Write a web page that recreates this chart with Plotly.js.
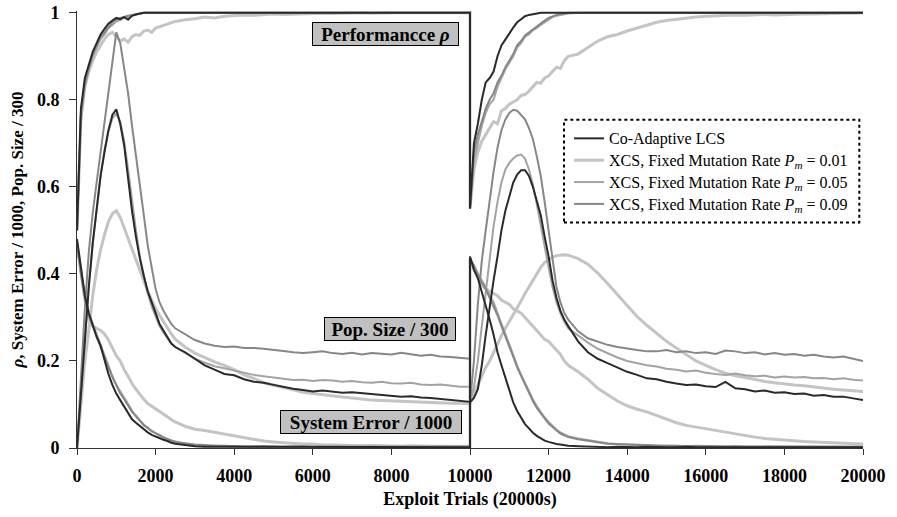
<!DOCTYPE html>
<html>
<head>
<meta charset="utf-8">
<script src="https://cdn.plot.ly/plotly-3.0.1.min.js"></script>
<style>
html,body{margin:0;padding:0;background:#fff;}
#chart{width:897px;height:517px;}
#chart .legendtext{font-size:16px !important;}
#chart g.legend g.scrollbox{clip-path:none !important;}
</style>
</head>
<body>
<div id="chart"></div>
<script>
// Exploit trials (shared x values); 10000 appears twice: end of phase 1, start of phase 2
const trials = [0,100,200,300,400,500,600,700,800,900,1000,1100,1200,1300,1400,1500,1600,1700,1800,1900,2000,2100,2200,2300,2400,2500,
2750,3000,3250,3500,3750,4000,4250,4500,4750,5000,5250,5500,5750,6000,6250,6500,6750,7000,7250,7500,7750,8000,8250,8500,8750,9000,9250,9500,9750,
10000,10000,10100,10200,10300,10400,10500,10600,10700,10800,10900,11000,11100,11200,11300,11400,11500,11600,11700,11800,11900,12000,12100,12200,12300,12400,12500,
12750,13000,13250,13500,13750,14000,14250,14500,14750,15000,15250,15500,15750,16000,16250,16500,16750,17000,17250,17500,17750,18000,18250,18500,18750,19000,19250,19500,19750,20000];

const seriesNames = ["Co-Adaptive LCS",
  "XCS, Fixed Mutation Rate <i>P</i><sub><i>m</i></sub> = 0.01",
  "XCS, Fixed Mutation Rate <i>P</i><sub><i>m</i></sub> = 0.05",
  "XCS, Fixed Mutation Rate <i>P</i><sub><i>m</i></sub> = 0.09"];

// ---------- Performance rho ----------
const perfCo = [0.50,0.78,0.85,0.88,0.91,0.93,0.95,0.963,0.975,0.982,0.988,0.985,0.99,0.984,0.993,0.996,0.998,1,1,1,1,1,1,1,1,1,
1,1,1,1,1,1,1,1,1,1,1,1,1,1,1,1,1,1,1,1,1,1,1,1,1,1,1,1,1,
1,0.55,0.70,0.745,0.80,0.84,0.85,0.865,0.90,0.925,0.94,0.952,0.966,0.978,0.985,0.992,0.995,0.997,0.998,1,1,1,1,1,1,1,1,
1,1,1,1,1,1,1,1,1,1,1,1,1,1,1,1,1,1,1,1,1,1,1,1,1,1,1,1,1,1];
const perfP01 = [0.50,0.76,0.83,0.865,0.89,0.91,0.925,0.94,0.95,0.955,0.945,0.935,0.94,0.932,0.945,0.95,0.948,0.958,0.96,0.955,0.965,0.968,0.972,0.975,0.978,0.98,
0.984,0.986,0.99,0.988,0.992,0.993,0.995,0.994,0.996,0.997,0.996,0.997,0.998,0.998,0.999,0.998,0.999,0.999,1,0.999,1,1,1,1,1,1,1,1,1,
1,0.55,0.64,0.68,0.705,0.72,0.735,0.75,0.745,0.775,0.78,0.79,0.795,0.80,0.81,0.812,0.82,0.83,0.84,0.838,0.85,0.855,0.865,0.875,0.872,0.89,0.90,
0.905,0.92,0.935,0.945,0.95,0.958,0.965,0.972,0.978,0.982,0.985,0.988,0.99,0.992,0.993,0.994,0.995,0.994,0.995,0.996,0.995,0.996,0.996,0.997,0.997,0.998,0.998,0.999,0.999,1];
const perfP05 = [0.50,0.75,0.83,0.87,0.90,0.92,0.94,0.95,0.965,0.972,0.98,0.983,0.99,0.988,0.994,0.996,0.998,1,1,1,1,1,1,1,1,1,
1,1,1,1,1,1,1,1,1,1,1,1,1,1,1,1,1,1,1,1,1,1,1,1,1,1,1,1,1,
1,0.55,0.66,0.70,0.74,0.77,0.79,0.80,0.83,0.85,0.87,0.885,0.90,0.92,0.93,0.945,0.95,0.96,0.965,0.972,0.978,0.985,0.99,0.993,0.995,0.997,0.998,
1,1,1,1,1,1,1,1,1,1,1,1,1,1,1,1,1,1,1,1,1,1,1,1,1,1,1,1,1,1];
const perfP09 = [0.50,0.77,0.84,0.875,0.905,0.925,0.945,0.955,0.968,0.978,0.985,0.988,0.99,0.993,0.995,0.997,0.998,1,1,1,1,1,1,1,1,1,
1,1,1,1,1,1,1,1,1,1,1,1,1,1,1,1,1,1,1,1,1,1,1,1,1,1,1,1,1,
1,0.55,0.68,0.72,0.75,0.78,0.80,0.815,0.84,0.855,0.875,0.89,0.905,0.925,0.935,0.948,0.955,0.962,0.97,0.976,0.982,0.988,0.992,0.995,0.997,0.998,1,
1,1,1,1,1,1,1,1,1,1,1,1,1,1,1,1,1,1,1,1,1,1,1,1,1,1,1,1,1,1];

// ---------- Population size / 300 ----------
const popCo = [0,0.13,0.26,0.37,0.47,0.555,0.625,0.68,0.73,0.765,0.778,0.745,0.695,0.62,0.545,0.485,0.435,0.395,0.36,0.335,0.31,0.285,0.27,0.255,0.24,0.232,
0.22,0.205,0.19,0.18,0.17,0.167,0.158,0.152,0.15,0.145,0.14,0.136,0.133,0.13,0.132,0.13,0.127,0.128,0.126,0.125,0.122,0.12,0.118,0.119,0.116,0.115,0.113,0.11,0.108,
0.106,0.105,0.115,0.135,0.19,0.26,0.325,0.385,0.44,0.5,0.545,0.58,0.61,0.628,0.638,0.638,0.625,0.6,0.57,0.535,0.485,0.44,0.385,0.345,0.315,0.295,0.28,
0.245,0.22,0.205,0.195,0.185,0.175,0.168,0.16,0.158,0.152,0.148,0.145,0.146,0.142,0.14,0.152,0.137,0.135,0.13,0.132,0.127,0.128,0.124,0.125,0.12,0.122,0.118,0.118,0.114,0.11];
const popP01 = [0,0.1,0.2,0.27,0.35,0.41,0.455,0.49,0.52,0.538,0.545,0.53,0.505,0.48,0.455,0.43,0.405,0.38,0.36,0.34,0.32,0.305,0.29,0.275,0.262,0.25,
0.232,0.218,0.208,0.198,0.19,0.18,0.168,0.16,0.15,0.145,0.14,0.134,0.128,0.125,0.122,0.12,0.117,0.115,0.112,0.11,0.109,0.108,0.107,0.106,0.105,0.105,0.104,0.103,0.103,
0.102,0.102,0.125,0.145,0.165,0.185,0.2,0.22,0.24,0.258,0.275,0.29,0.305,0.32,0.338,0.355,0.37,0.385,0.4,0.415,0.426,0.433,0.438,0.442,0.443,0.444,0.443,
0.435,0.422,0.402,0.378,0.352,0.326,0.302,0.282,0.263,0.245,0.23,0.215,0.2,0.19,0.18,0.172,0.166,0.162,0.157,0.153,0.15,0.147,0.145,0.143,0.14,0.137,0.135,0.133,0.132,0.13];
const popP05 = [0,0.13,0.26,0.37,0.47,0.555,0.625,0.685,0.728,0.757,0.768,0.75,0.705,0.64,0.565,0.5,0.44,0.395,0.355,0.325,0.3,0.28,0.265,0.252,0.24,0.232,
0.218,0.205,0.196,0.188,0.183,0.178,0.172,0.168,0.165,0.162,0.158,0.156,0.157,0.154,0.156,0.155,0.152,0.154,0.151,0.15,0.152,0.149,0.148,0.15,0.146,0.145,0.146,0.143,0.141,
0.141,0.105,0.14,0.2,0.28,0.36,0.44,0.51,0.565,0.61,0.64,0.655,0.665,0.672,0.674,0.665,0.64,0.605,0.56,0.51,0.46,0.415,0.37,0.335,0.31,0.29,0.275,
0.258,0.242,0.228,0.218,0.208,0.2,0.195,0.19,0.187,0.182,0.18,0.176,0.178,0.173,0.17,0.168,0.171,0.167,0.165,0.166,0.162,0.164,0.162,0.163,0.16,0.161,0.158,0.16,0.157,0.155];
const popP09 = [0,0.17,0.32,0.45,0.54,0.61,0.68,0.745,0.815,0.885,0.955,0.93,0.87,0.815,0.74,0.675,0.6,0.535,0.465,0.41,0.365,0.335,0.315,0.3,0.285,0.275,
0.262,0.248,0.24,0.235,0.232,0.233,0.23,0.23,0.228,0.226,0.223,0.22,0.218,0.22,0.222,0.218,0.216,0.219,0.215,0.218,0.217,0.215,0.219,0.216,0.212,0.214,0.21,0.209,0.207,
0.205,0.105,0.2,0.33,0.43,0.5,0.57,0.635,0.69,0.73,0.755,0.77,0.777,0.775,0.765,0.755,0.735,0.71,0.67,0.625,0.565,0.5,0.43,0.37,0.335,0.31,0.295,
0.268,0.252,0.245,0.237,0.232,0.228,0.225,0.222,0.222,0.225,0.22,0.222,0.218,0.22,0.216,0.224,0.222,0.218,0.22,0.215,0.218,0.214,0.216,0.212,0.214,0.21,0.208,0.21,0.205,0.2];

// ---------- System error / 1000 ----------
const errCo = [0.48,0.41,0.35,0.31,0.28,0.255,0.235,0.2,0.17,0.145,0.125,0.11,0.095,0.078,0.066,0.058,0.05,0.042,0.036,0.03,0.026,0.022,0.019,0.016,0.012,0.01,
0.007,0.004,0.003,0.003,0.002,0.003,0.002,0.002,0.003,0.002,0.002,0.002,0.003,0.002,0.002,0.002,0.002,0.003,0.002,0.002,0.002,0.002,0.002,0.003,0.002,0.002,0.002,0.002,0.002,
0.002,0.44,0.41,0.39,0.36,0.33,0.295,0.26,0.22,0.19,0.16,0.13,0.105,0.085,0.07,0.055,0.045,0.035,0.028,0.022,0.017,0.014,0.011,0.009,0.008,0.006,0.005,
0.004,0.003,0.003,0.002,0.003,0.002,0.002,0.003,0.002,0.002,0.002,0.003,0.002,0.002,0.002,0.002,0.003,0.002,0.002,0.002,0.002,0.002,0.003,0.002,0.002,0.002,0.002,0.002,0.002,0.002];
const errP01 = [0.47,0.4,0.34,0.3,0.28,0.275,0.27,0.262,0.248,0.23,0.212,0.2,0.18,0.165,0.148,0.135,0.122,0.112,0.102,0.096,0.09,0.084,0.08,0.072,0.065,0.06,
0.05,0.043,0.04,0.036,0.031,0.027,0.023,0.019,0.016,0.014,0.012,0.01,0.009,0.009,0.007,0.007,0.006,0.006,0.005,0.006,0.005,0.005,0.004,0.005,0.004,0.004,0.004,0.004,0.004,
0.004,0.435,0.41,0.395,0.375,0.365,0.36,0.355,0.35,0.34,0.335,0.33,0.32,0.315,0.31,0.3,0.29,0.28,0.27,0.26,0.25,0.245,0.235,0.225,0.215,0.2,0.19,
0.175,0.158,0.137,0.122,0.108,0.097,0.089,0.083,0.075,0.066,0.058,0.052,0.048,0.044,0.04,0.036,0.032,0.028,0.025,0.022,0.02,0.018,0.017,0.015,0.014,0.013,0.012,0.011,0.01,0.009];
const errP05 = [0.46,0.4,0.35,0.31,0.285,0.26,0.24,0.215,0.19,0.165,0.145,0.13,0.115,0.1,0.085,0.072,0.063,0.055,0.045,0.04,0.033,0.028,0.025,0.02,0.017,0.015,
0.01,0.007,0.005,0.005,0.004,0.004,0.003,0.004,0.003,0.003,0.003,0.004,0.003,0.003,0.003,0.003,0.003,0.003,0.004,0.003,0.003,0.003,0.003,0.003,0.003,0.003,0.003,0.003,0.003,
0.003,0.43,0.415,0.4,0.385,0.37,0.35,0.335,0.31,0.285,0.265,0.24,0.215,0.19,0.168,0.148,0.13,0.112,0.096,0.082,0.07,0.06,0.05,0.042,0.036,0.031,0.027,
0.022,0.018,0.014,0.011,0.009,0.008,0.007,0.006,0.006,0.005,0.005,0.004,0.005,0.004,0.004,0.004,0.004,0.003,0.004,0.003,0.003,0.003,0.004,0.003,0.003,0.003,0.003,0.003,0.003,0.003];
const errP09 = [0.47,0.4,0.345,0.305,0.28,0.255,0.235,0.21,0.185,0.163,0.142,0.125,0.112,0.097,0.083,0.074,0.062,0.052,0.047,0.038,0.034,0.03,0.024,0.021,0.018,0.014,
0.011,0.008,0.007,0.005,0.005,0.004,0.004,0.003,0.004,0.003,0.003,0.003,0.004,0.003,0.003,0.003,0.003,0.004,0.003,0.003,0.003,0.003,0.003,0.003,0.003,0.003,0.003,0.003,0.003,
0.003,0.435,0.42,0.4,0.38,0.365,0.345,0.325,0.305,0.28,0.258,0.235,0.21,0.185,0.165,0.145,0.125,0.108,0.092,0.08,0.066,0.056,0.048,0.04,0.033,0.029,0.025,
0.02,0.016,0.013,0.01,0.009,0.007,0.007,0.006,0.005,0.005,0.005,0.004,0.004,0.004,0.004,0.003,0.004,0.003,0.003,0.003,0.003,0.003,0.003,0.003,0.003,0.003,0.003,0.003,0.003,0.003];

const annoTexts = ["<b>Performancce <i>ρ</i></b>", "<b>Pop. Size / 300</b>", "<b>System Error / 1000</b>"];
const xTitle = "<b>Exploit Trials (20000s)</b>";
const yTitle = "<b><i>ρ</i>, System Error / 1000, Pop. Size / 300</b>";

// styles: draw order light -> 0.05 -> 0.09 -> dark (dark on top)
const styles = [
  {idx:1, color:"#c4c4c4", width:3, rank:2, data:[perfP01, popP01, errP01]},
  {idx:2, color:"#a3a3a3", width:2, rank:3, data:[perfP05, popP05, errP05]},
  {idx:3, color:"#878787", width:2, rank:4, data:[perfP09, popP09, errP09]},
  {idx:0, color:"#2a2a2a", width:2, rank:1, data:[perfCo, popCo, errCo]}
];

const traces = [];
styles.forEach(s => {
  s.data.forEach((arr, k) => {
    traces.push({
      type: "scatter", mode: "lines", x: trials, y: arr,
      name: seriesNames[s.idx], showlegend: k === 0, legendrank: s.rank,
      line: {color: s.color, width: s.width, shape: "linear"},
      hoverinfo: "skip"
    });
  });
});

const serif = "Liberation Serif, Times New Roman, serif";
const annoBase = {showarrow:false, bgcolor:"#c0c0c0", bordercolor:"#000", borderwidth:1, borderpad:0,
  font:{family:serif, size:19, color:"#000"}, xref:"x", yref:"y", xanchor:"center", yanchor:"middle", align:"center", height:22};

const layout = {
  width: 897, height: 517,
  margin: {l:77, r:34, t:11, b:69},
  paper_bgcolor: "#fff", plot_bgcolor: "#fff",
  font: {family: serif, color: "#000"},
  xaxis: {
    range: [0, 20000], tick0: 0, dtick: 2000, tickformat: "d",
    ticks: "outside", ticklen: 6, tickwidth: 1, tickcolor: "#333", ticklabelstandoff: 5,
    showline: true, linecolor: "#333", linewidth: 1, showgrid: false, zeroline: false,
    tickfont: {family: serif, size: 18, color: "#000", weight: "bold"},
    title: {text: xTitle, font: {family: serif, size: 18, color: "#000"}, standoff: 7}
  },
  yaxis: {
    range: [0, 1.004], tick0: 0, dtick: 0.2,
    ticks: "outside", ticklen: 7, tickwidth: 1, tickcolor: "#333", ticklabelstandoff: 6,
    showline: true, linecolor: "#333", linewidth: 1, showgrid: false, zeroline: false,
    tickfont: {family: serif, size: 18, color: "#000", weight: "bold"},
    title: {text: yTitle, font: {family: serif, size: 17, color: "#000"}, standoff: 8}
  },
  showlegend: true,
  legend: {
    x: 0.626, y: 0.745, xanchor: "left", yanchor: "top",
    bgcolor: "rgba(0,0,0,0)", borderwidth: 0, itemwidth: 30,
    font: {family: serif, size: 14.5, color: "#000"}
  },
  shapes: [
    {type:"rect", xref:"x", yref:"y", x0:12392, x1:19906, y0:0.518, y1:0.754,
     line:{color:"#000", width:2, dash:"dot"}, fillcolor:"rgba(0,0,0,0)"}
  ],
  annotations: [
    Object.assign({}, annoBase, {text: annoTexts[0], x: 7846, y: 0.9519, width: 145}),
    Object.assign({}, annoBase, {text: annoTexts[1], x: 7961, y: 0.2734, width: 130}),
    Object.assign({}, annoBase, {text: annoTexts[2], x: 7477, y: 0.0605, width: 180})
  ]
};

Plotly.newPlot("chart", traces, layout, {displayModeBar: false, staticPlot: true});
</script>
</body>
</html>
